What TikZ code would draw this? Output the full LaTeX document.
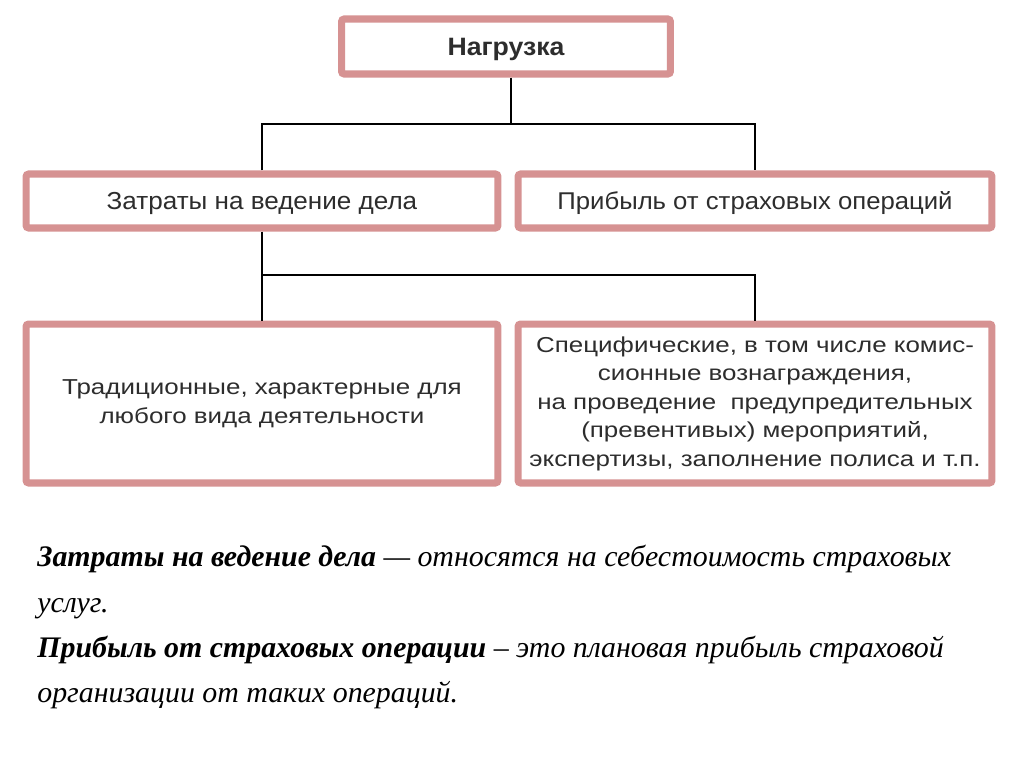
\documentclass[tikz,border=0pt]{standalone}
\usepackage{fontspec}
\setmainfont{Liberation Serif}
\setsansfont{Liberation Sans}
\newfontfamily\boxfont[FakeStretch=1.06]{Liberation Sans}
\newfontfamily\wideboxfont[FakeStretch=1.2]{Liberation Sans}
\definecolor{boxpink}{RGB}{214,146,146}
\definecolor{boxtext}{RGB}{45,45,45}
\tikzset{
  loadbox/.style={draw=boxpink, line width=4pt, fill=white, rounded corners=1.5pt,
    text=boxtext, align=center, inner sep=0pt},
  link/.style={line width=1.1pt, black},
  notetext/.style={anchor=base west, inner sep=0pt,
    font=\fontsize{17}{21}\selectfont\itshape},
}
\begin{document}
\begin{tikzpicture}[x=0.02cm,y=-0.02cm]
\useasboundingbox (0,0) rectangle (1024,767);
% boxes
\node[loadbox, minimum width=6.58cm, minimum height=1.1cm, text depth=0pt, font=\boxfont\bfseries\fontsize{14.3}{16}\selectfont]
  (load) at (506,46.5) {Нагрузка};
\node[loadbox, minimum width=9.44cm, minimum height=1.08cm, text depth=0pt, font=\boxfont\fontsize{14}{16}\selectfont]
  (costs) at (262,201) {Затраты на ведение дела};
\node[loadbox, minimum width=9.48cm, minimum height=1.08cm, text depth=0pt, font=\boxfont\fontsize{13.8}{16}\selectfont]
  (profit) at (755,201) {Прибыль от страховых операций};
\node[loadbox, minimum width=9.44cm, minimum height=3.18cm, font=\wideboxfont\fontsize{12.3}{16.5}\selectfont]
  (trad) at (262,403.5) {Традиционные, характерные для\\любого вида деятельности};
\node[loadbox, minimum width=9.48cm, minimum height=3.18cm, font=\wideboxfont\fontsize{12.3}{16.2}\selectfont]
  (spec) at (755,403.5) {Специфические, в том числе комис-\\сионные вознаграждения,\\на проведение\ \ предупредительных\\(превентивых) мероприятий,\\экспертизы, заполнение полиса и т.п.};
% connectors
\coordinate (split1) at (511,124);
\coordinate (split2) at (263,275);
\draw[link] (load.south -| split1) -- (split1);
\draw[link] (costs.north) |- (split1) -| (profit.north);
\draw[link] (costs.south) -- (trad.north);
\draw[link] (costs.south |- split2) -| (spec.north);
% notes
\node[notetext] (note1a) at (37,566)
  {\textbf{Затраты на ведение дела} — относятся на себестоимость страховых};
\node[notetext] (note1b) at (37,612) {услуг.};
\node[notetext] (note2a) at (37,657)
  {\textbf{Прибыль от страховых операции} – это плановая прибыль страховой};
\node[notetext] (note2b) at (37,702) {организации от таких операций.};
\end{tikzpicture}
\end{document}
